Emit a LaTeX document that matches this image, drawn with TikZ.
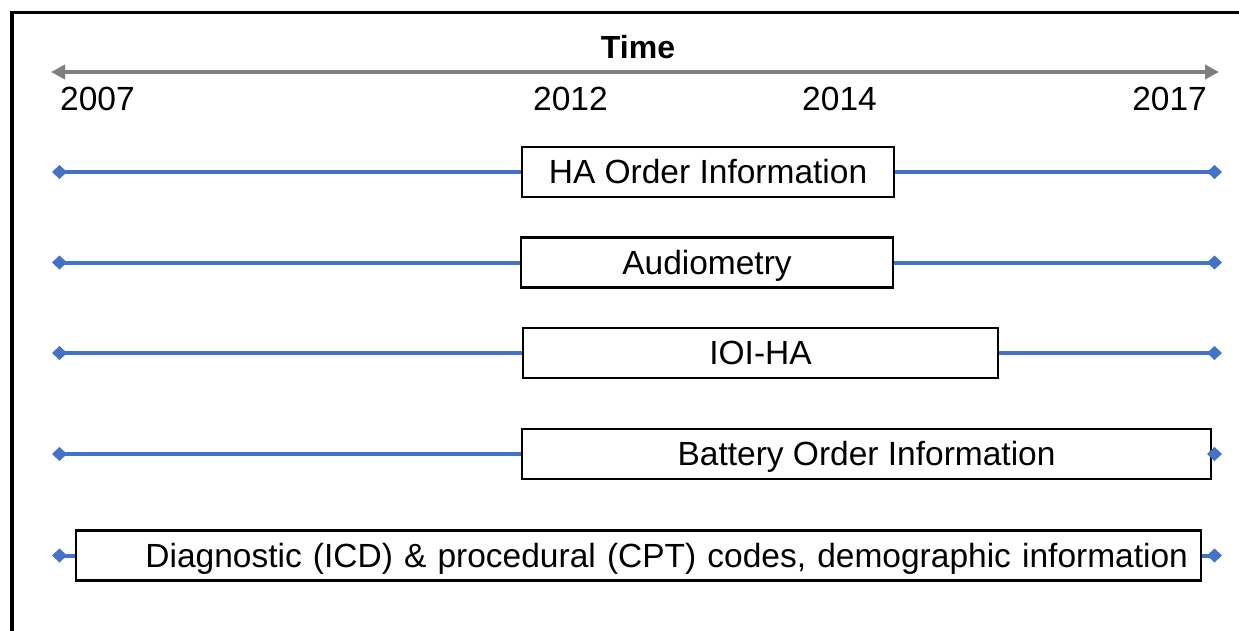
\documentclass[tikz,border=0pt]{standalone}
\usepackage{fontspec}
\setmainfont{Liberation Sans}
\usetikzlibrary{arrows.meta,positioning}
\definecolor{lineblue}{HTML}{4472C4}
\definecolor{axisgray}{HTML}{7F7F7F}
\tikzset{period/.style={draw=black,line width=2.6pt,fill=white,minimum height=50,
  inner sep=0pt,text height=23pt,text depth=0pt},
  link/.style={-{Diamond[length=15pt,width=14pt]},line width=4pt,draw=lineblue},
  timeaxis/.style={{Triangle[length=14pt,width=14pt]}-{Triangle[length=14pt,width=14pt]},
  line width=4.5pt,draw=axisgray}}

\begin{document}
\begin{tikzpicture}[x=1pt,y=-1pt,font=\fontsize{33.5}{40}\selectfont]
\useasboundingbox (0,0) rectangle (1239,630);
\draw[line width=3.5pt] (12,640)--(12,12.5)--(1250,12.5);
% time axis
\coordinate (t0) at (51,72);
\coordinate (t1) at (1219,72);
\draw[timeaxis] (t0)--(t1);
\node[font=\fontsize{32}{36}\selectfont\bfseries] (time) at (638,47) {Time};
\node (y07) at (97.5,99) {2007};
\node (y12) at (570.5,99) {2012};
\node (y14) at (839.5,99) {2014};
\node (y17) at (1169.5,99) {2017};
% data periods
\node[period,minimum width=372] (ha) at (708,172) {HA Order Information};
\node[period,minimum width=372] (aud) at (707,262.5) {Audiometry};
\node[period,minimum width=475] (ioi) at (760.5,353) {IOI-HA};
\node[period,minimum width=689] (bat) at (866.5,454) {Battery Order Information};
\node[period,minimum width=1125,text width=1099,align=right,inner xsep=13pt] (dx) at (638.5,555.5)
  {Diagnostic (ICD) \& procedural (CPT) codes, demographic information};
\foreach \b/\y in {ha/172,aud/262.5,ioi/353,bat/454,dx/555.5}{
  \coordinate (\b-l) at (52,\y);
  \coordinate (\b-r) at (1222,\y);
  \draw[link] (\b)--(\b-l);
  \draw[link] (\b)--(\b-r);
}
\end{tikzpicture}
\end{document}
